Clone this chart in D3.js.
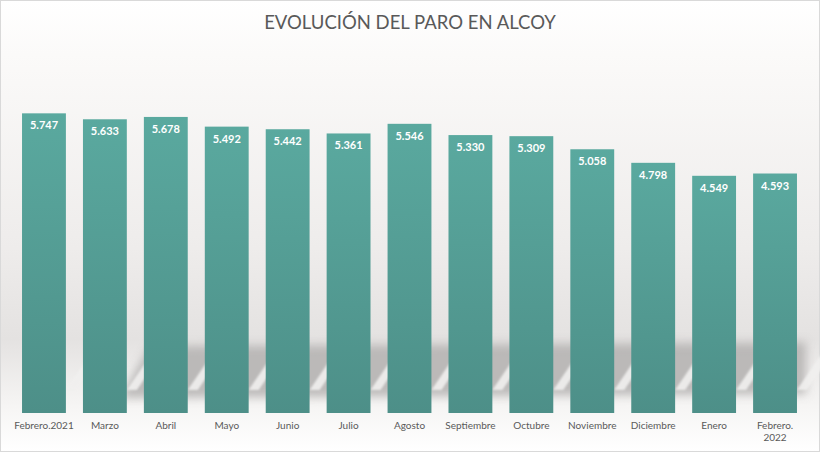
<!DOCTYPE html>
<html>
<head>
<meta charset="utf-8">
<script src="https://cdn.jsdelivr.net/npm/d3@7"></script>
<style>
  body { margin: 0; background: #fff; }
  svg { display: block; }
</style>
</head>
<body>
<div id="chart"></div>
<script>
const W = 820, H = 452;
const TITLE = "EVOLUCIÓN DEL PARO EN ALCOY";
const months = ["Febrero.2021", "Marzo", "Abril", "Mayo", "Junio", "Julio", "Agosto",
  "Septiembre", "Octubre", "Noviembre", "Diciembre", "Enero", "Febrero.\n2022"];
const parados = [5747, 5633, 5678, 5492, 5442, 5361, 5546, 5330, 5309, 5058, 4798, 4549, 4593];

const fmt = v => d3.format(",")(v).replace(",", ".");

const svg = d3.select("#chart").append("svg")
  .attr("width", W).attr("height", H);

const defs = svg.append("defs");

// background gradient
const bg = defs.append("linearGradient").attr("id", "bg")
  .attr("x1", 0).attr("y1", 0).attr("x2", 0).attr("y2", 1);
bg.append("stop").attr("offset", "0%").attr("stop-color", "#ffffff");
bg.append("stop").attr("offset", "12%").attr("stop-color", "#fbfaf9");
bg.append("stop").attr("offset", "55%").attr("stop-color", "#eeeceb");
bg.append("stop").attr("offset", "75%").attr("stop-color", "#e4e2e1");
bg.append("stop").attr("offset", "90%").attr("stop-color", "#f6f5f4");
bg.append("stop").attr("offset", "100%").attr("stop-color", "#ffffff");

const barGrad = defs.append("linearGradient").attr("id", "barGrad")
  .attr("x1", 0).attr("y1", 0).attr("x2", 0).attr("y2", 1);
barGrad.append("stop").attr("offset", "0%").attr("stop-color", "#5aa99f");
barGrad.append("stop").attr("offset", "100%").attr("stop-color", "#4d8f88");

defs.append("filter").attr("id", "blur").attr("x", "-20%").attr("y", "-50%")
  .attr("width", "140%").attr("height", "200%")
  .append("feGaussianBlur").attr("stdDeviation", 5);

defs.append("filter").attr("id", "blurS")
  .append("feGaussianBlur").attr("stdDeviation", 1.2);

svg.append("rect").attr("x", 0.5).attr("y", 0.5)
  .attr("width", W - 1).attr("height", H - 1)
  .attr("fill", "url(#bg)").attr("stroke", "#d9d9d9");

const x = d3.scaleBand().domain(months).range([13.5, 805.5]).paddingInner(0.28).paddingOuter(0.14);
const y = d3.scaleLinear().domain([0, 7000]).range([413, 48]);

// shadow band behind the bars
svg.append("path")
  .attr("d", "M150,346 L806,342 L806,394 L120,398 Z")
  .attr("fill", "#b3b1b0").attr("opacity", 0.85).attr("filter", "url(#blur)");

// diagonal highlights in the shadow
svg.append("g").selectAll("path").data(months).join("path")
  .attr("d", d => {
    const x0 = x(d) + x.bandwidth(), w = 10;
    return `M${x0},390 L${x0 + 30},346 L${x0 + 30 + w},346 L${x0 + w},390 Z`;
  })
  .attr("fill", "#f1f0ef").attr("opacity", 0.9).attr("filter", "url(#blurS)");

// bars
svg.append("g").selectAll("rect").data(parados).join("rect")
  .attr("x", (d, i) => x(months[i]))
  .attr("y", d => y(d))
  .attr("width", x.bandwidth())
  .attr("height", d => y(0) - y(d))
  .attr("fill", "url(#barGrad)");

// value labels
svg.append("g").selectAll("text").data(parados).join("text")
  .attr("x", (d, i) => x(months[i]) + x.bandwidth() / 2)
  .attr("y", d => y(d) + 16)
  .attr("text-anchor", "middle")
  .attr("font-family", "Lato, 'Open Sans', sans-serif")
  .attr("font-weight", "bold")
  .attr("font-size", 11)
  .attr("fill", "#ffffff")
  .text(d => fmt(d));

// category axis
const xAxis = svg.append("g").attr("transform", `translate(0,${y(0)})`)
  .call(d3.axisBottom(x).tickSize(0).tickFormat(""));
xAxis.select(".domain").remove();
xAxis.selectAll(".tick").append("text")
  .attr("text-anchor", "middle")
  .attr("font-family", "Lato, 'Open Sans', sans-serif")
  .attr("font-size", 10)
  .attr("fill", "#595959")
  .selectAll("tspan").data(d => d.split("\n")).join("tspan")
  .attr("x", 0)
  .attr("y", (d, i) => 16 + i * 12)
  .text(d => d);

// title
svg.append("text")
  .attr("x", 410).attr("y", 29)
  .attr("text-anchor", "middle")
  .attr("font-family", "Lato, 'Open Sans', sans-serif")
  .attr("font-size", 18.5)
  .attr("fill", "#595959")
  .text(TITLE);
</script>
</body>
</html>
